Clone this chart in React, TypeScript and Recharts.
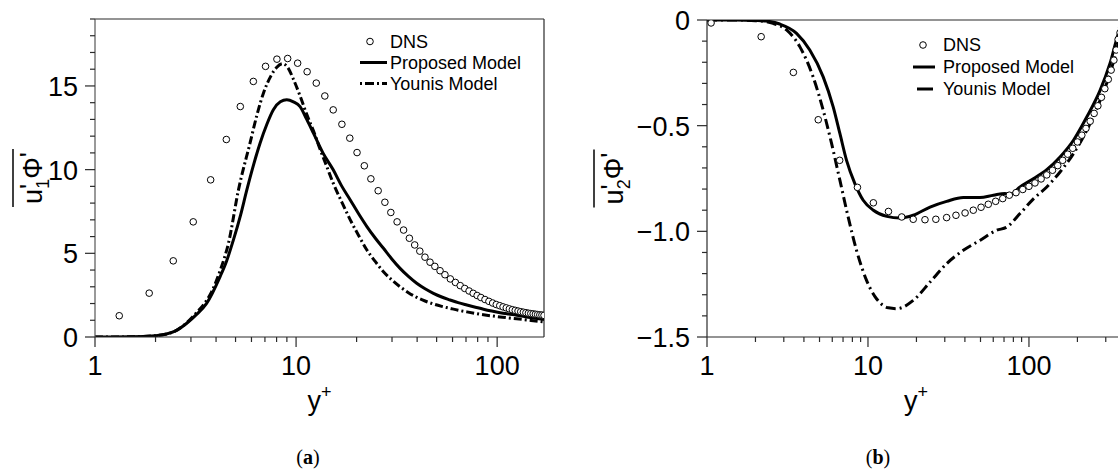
import { ComposedChart, Line, Scatter, XAxis, YAxis, ReferenceLine, Legend } from 'recharts'

// ─── Style tokens ────────────────────────────────────────────────────────────
const INK = '#000'
const FRAME = '#2a2a2a'
const SANS = '"Liberation Sans", Arial, Helvetica, sans-serif'
const SERIF = '"Liberation Serif", "DejaVu Serif", serif'
const TICK_FS = 27

// ─── Panel (a): u'1 phi' vs y+ ───────────────────────────────────────────────
const A_DNS_X = [1.32, 1.86, 2.45, 3.08, 3.76, 4.5, 5.28, 6.13, 7.05, 8.03, 9.08, 10.18, 11.35, 12.6, 13.9, 15.3, 16.9, 18.5, 20.1, 21.85, 23.55, 25.6, 27.65, 29.6, 31.8, 34.25, 36.6, 38.9, 41.25, 43.75, 46.35, 49, 52, 55, 58.5, 62, 65.5, 69, 72.5, 76, 79.5, 83, 87, 91, 95, 99, 103, 107, 111, 115, 119, 123, 127, 131, 135, 139, 143, 147, 151, 155, 159, 163, 167, 171]
const A_DNS_V = [1.27, 2.62, 4.55, 6.88, 9.39, 11.8, 13.77, 15.27, 16.17, 16.6, 16.64, 16.36, 15.85, 15.17, 14.4, 13.57, 12.71, 11.88, 11.02, 10.23, 9.45, 8.74, 8.05, 7.44, 6.88, 6.39, 5.9, 5.5, 5.13, 4.77, 4.47, 4.22, 3.96, 3.72, 3.47, 3.26, 3.07, 2.9, 2.75, 2.61, 2.48, 2.36, 2.24, 2.13, 2.03, 1.94, 1.87, 1.8, 1.74, 1.68, 1.63, 1.59, 1.55, 1.51, 1.48, 1.45, 1.42, 1.4, 1.38, 1.36, 1.34, 1.32, 1.31, 1.29]

const A_PROP_X = [1, 1.5, 2, 2.5, 2.86, 3.2, 3.59, 4.19, 4.5, 4.88, 5.3, 5.69, 6.15, 6.62, 7.15, 7.71, 8.35, 8.99, 9.7, 10.47, 11.3, 12.2, 13.6, 15.3, 16.9, 18.6, 20.5, 22.5, 24.8, 27.2, 30, 32.9, 36.2, 39.8, 43.8, 48.2, 53, 58.4, 64, 70.7, 78, 85.5, 94, 103.5, 114, 125, 140, 155, 171]
const A_PROP_V = [0, 0.01, 0.08, 0.35, 0.82, 1.35, 2.01, 3.61, 4.5, 5.8, 7.3, 8.79, 10.3, 11.58, 12.7, 13.58, 14.05, 14.17, 14.05, 13.77, 13.0, 12.18, 11.0, 9.99, 9.0, 8.19, 7.35, 6.6, 5.9, 5.3, 4.65, 4.1, 3.62, 3.21, 2.88, 2.61, 2.39, 2.21, 2.05, 1.91, 1.78, 1.66, 1.55, 1.45, 1.37, 1.3, 1.2, 1.12, 1.05]

const A_YOUNIS_X = [1, 1.5, 2, 2.5, 2.86, 3.2, 3.5, 3.8, 4.2, 4.61, 5.17, 5.9, 6.4, 6.88, 7.5, 8.0, 8.59, 9.1, 9.7, 10.47, 11.3, 12.4, 13.2, 14.2, 15.3, 16.9, 18.6, 20.5, 22.5, 24.8, 27.2, 30, 32.9, 36.2, 39.8, 43.8, 48.2, 53, 58.4, 64, 70.7, 78, 85.5, 94, 103.5, 114, 125, 140, 155, 171]
const A_YOUNIS_V = [0, 0.01, 0.08, 0.35, 0.85, 1.45, 2.0, 2.7, 4.0, 5.6, 8.79, 11.58, 13.3, 14.57, 15.6, 16.1, 16.33, 16.1, 15.4, 14.4, 13.3, 12.1, 11.18, 10.2, 9.19, 8.05, 7.0, 6.05, 5.2, 4.5, 3.9, 3.4, 3.0, 2.65, 2.37, 2.15, 1.97, 1.83, 1.71, 1.6, 1.5, 1.41, 1.33, 1.26, 1.2, 1.14, 1.09, 1.02, 0.96, 0.9]

const A_X_TICKS = [1, 2, 3, 4, 5, 6, 7, 8, 9, 10, 20, 30, 40, 50, 60, 70, 80, 90, 100]
const A_X_MAJOR = [1, 10, 100]
const A_Y_TICKS = [0, 1, 2, 3, 4, 5, 6, 7, 8, 9, 10, 11, 12, 13, 14, 15, 16, 17, 18, 19]
const A_Y_MAJOR = [0, 5, 10, 15]

// ─── Panel (b): u'2 phi' vs y+ ───────────────────────────────────────────────
const B_DNS_X = [1.06, 2.17, 3.44, 4.91, 6.67, 8.6, 10.8, 13.4, 16.2, 19.1, 22.6, 26.4, 30.8, 35.2, 40.1, 45.1, 50.4, 55.9, 62.1, 68.7, 75.5, 83.1, 91.5, 100, 109, 119, 129, 140, 151, 162, 174, 187, 200, 213, 226, 240, 254, 268, 282, 296, 311, 324, 337, 348, 358, 368, 377, 386, 395]
const B_DNS_V = [-0.014, -0.079, -0.248, -0.472, -0.664, -0.792, -0.865, -0.906, -0.932, -0.943, -0.945, -0.943, -0.935, -0.924, -0.913, -0.9, -0.886, -0.872, -0.858, -0.845, -0.829, -0.817, -0.802, -0.787, -0.771, -0.752, -0.733, -0.711, -0.689, -0.664, -0.635, -0.607, -0.577, -0.545, -0.513, -0.479, -0.442, -0.406, -0.366, -0.325, -0.281, -0.237, -0.19, -0.142, -0.092, -0.06, -0.035, -0.015, 0]

const B_PROP_X = [1, 1.5, 2, 2.34, 2.83, 3.6, 4.35, 5.27, 6.08, 6.69, 7.36, 8.29, 9.34, 10.8, 13.1, 15.8, 19.1, 24.3, 30.8, 39.1, 49.6, 60.1, 71, 76, 88, 107, 129, 156, 189, 229, 277, 319, 360, 395]
const B_PROP_V = [0, 0, -0.002, -0.005, -0.019, -0.063, -0.142, -0.269, -0.411, -0.537, -0.664, -0.774, -0.853, -0.9, -0.929, -0.937, -0.924, -0.885, -0.858, -0.84, -0.84, -0.829, -0.821, -0.826, -0.79, -0.75, -0.708, -0.648, -0.569, -0.458, -0.332, -0.205, -0.063, 0]

const B_YOUNIS_X = [1, 1.5, 2, 2.57, 3.12, 3.77, 4.56, 5.27, 5.94, 6.69, 7.53, 8.49, 9.8, 11.3, 13.4, 15.1, 19.1, 24.3, 30.8, 39.1, 49.6, 63, 72.8, 88, 107, 129, 156, 189, 229, 277, 319, 360, 395]
const B_YOUNIS_V = [0, 0, -0.003, -0.016, -0.047, -0.126, -0.269, -0.427, -0.584, -0.758, -0.932, -1.09, -1.232, -1.319, -1.362, -1.366, -1.327, -1.24, -1.153, -1.09, -1.043, -0.995, -0.98, -0.916, -0.845, -0.79, -0.719, -0.632, -0.521, -0.379, -0.253, -0.11, -0.01]

const B_X_TICKS = [1, 2, 3, 4, 5, 6, 7, 8, 9, 10, 20, 30, 40, 50, 60, 70, 80, 90, 100, 200, 300]
const B_X_MAJOR = [1, 10, 100]
const B_Y_TICKS = [-1.5, -1.4, -1.3, -1.2, -1.1, -1, -0.9, -0.8, -0.7, -0.6, -0.5, -0.4, -0.3, -0.2, -0.1, 0]
const B_Y_MAJOR = [-1.5, -1, -0.5, 0]

const LEGEND_NAMES = ['DNS', 'Proposed Model', 'Younis Model']

const zip = (xs: number[], vs: number[]) => xs.map((x, i) => ({ x, y: vs[i] }))

// ─── Axis ticks (tickSize 0 → x/y is the axis line) ──────────────────────────
function renderXTick(p: any, major: number[]) {
  const { x, y, payload } = p
  const isMajor = major.includes(payload.value)
  return (
    <g>
      <line x1={x} x2={x} y1={y} y2={y + (isMajor ? 10 : 5)} stroke={FRAME} strokeWidth={1.2} />
      {isMajor && (
        <text x={x} y={y + 38} textAnchor="middle" fontSize={TICK_FS} fontFamily={SANS} fill={INK}>{payload.value}</text>
      )}
    </g>
  )
}

function renderYTick(p: any, major: number[], fmt: (v: number) => string) {
  const { x, y, payload } = p
  const isMajor = major.includes(payload.value)
  return (
    <g>
      <line x1={x} x2={x - (isMajor ? 10 : 5)} y1={y} y2={y} stroke={FRAME} strokeWidth={1.2} />
      {isMajor && (
        <text x={x - 17} y={y + 10} textAnchor="end" fontSize={TICK_FS} fontFamily={SANS} fill={INK}>{fmt(payload.value)}</text>
      )}
    </g>
  )
}

const fmtA = (v: number) => String(v)
const fmtB = (v: number) => (v === 0 ? '0' : '\u2212' + Math.abs(v).toFixed(1))

// ─── Axis titles ─────────────────────────────────────────────────────────────
function XTitle({ viewBox }: any) {
  const cx = viewBox.x + viewBox.width / 2
  return (
    <text x={cx} y={viewBox.y + 73} textAnchor="middle" fontSize={TICK_FS} fontFamily={SANS} fill={INK}>
      y<tspan fontSize={18} dy={-12}>+</tspan>
    </text>
  )
}

function YTitle({ viewBox, sub, gap }: any) {
  const bx = viewBox.x + viewBox.width - gap
  const cy = viewBox.y + viewBox.height / 2
  return (
    <g>
      <text transform={`translate(${bx},${cy}) rotate(-90)`} textAnchor="middle" fontSize={TICK_FS} fontFamily={SANS} fill={INK}>
        u<tspan dy={-3}>'</tspan>
        <tspan fontSize={18} dx={-5} dy={10}>{sub}</tspan>
        <tspan dy={-7}>Φ</tspan>
        <tspan dy={-3}>'</tspan>
      </text>
      <line x1={bx - 29} x2={bx - 29} y1={cy - 29} y2={cy + 29} stroke={INK} strokeWidth={1.5} />
    </g>
  )
}

// ─── Legend ──────────────────────────────────────────────────────────────────
function LegendBox({ rowH, lineLen, younisDash, younisStart }: { rowH: number; lineLen: number; younisDash: string; younisStart: number }) {
  return (
    <div style={{ fontFamily: SANS, fontSize: 18, color: INK }}>
      {LEGEND_NAMES.map((name, i) => (
        <div key={name} style={{ display: 'flex', alignItems: 'center', height: rowH }}>
          <svg width={30} height={rowH} style={{ display: 'block' }}>
            {i === 0 && <circle cx={10} cy={rowH / 2} r={3.3} fill="#fff" stroke={INK} strokeWidth={1} />}
            {i === 1 && <line x1={0} x2={lineLen} y1={rowH / 2} y2={rowH / 2} stroke={INK} strokeWidth={3} />}
            {i === 2 && <line x1={younisStart} x2={lineLen} y1={rowH / 2} y2={rowH / 2} stroke={INK} strokeWidth={3} strokeDasharray={younisDash} />}
          </svg>
          <span style={{ lineHeight: 1, whiteSpace: 'nowrap' }}>{name}</span>
        </div>
      ))}
    </div>
  )
}

const circleShape = (p: any) => <circle cx={p.cx} cy={p.cy} r={3.3} fill="#fff" stroke={INK} strokeWidth={1} />

const captionStyle: React.CSSProperties = {
  position: 'absolute', top: 446, width: 60, textAlign: 'center',
  fontFamily: SERIF, fontSize: 20, lineHeight: '22px', color: INK,
}

export default function App() {
  const aDns = zip(A_DNS_X, A_DNS_V)
  const aProp = zip(A_PROP_X, A_PROP_V)
  const aYounis = zip(A_YOUNIS_X, A_YOUNIS_V)
  const bDns = zip(B_DNS_X, B_DNS_V)
  const bProp = zip(B_PROP_X, B_PROP_V)
  const bYounis = zip(B_YOUNIS_X, B_YOUNIS_V)

  return (
    <div style={{ position: 'absolute', left: 0, top: 0, width: 1118, height: 472, overflow: 'hidden', background: '#fff' }}>
      {/* (a) streamwise flux */}
      <div style={{ position: 'absolute', left: 0, top: 0 }}>
        <ComposedChart width={560} height={472} margin={{ top: 19, right: 16, bottom: 95, left: 0 }}>
          <XAxis dataKey="x" type="number" scale="log" domain={[1, 171]} allowDataOverflow ticks={A_X_TICKS} interval={0}
            height={40} tickSize={0} tickMargin={0} tickLine={false}
            axisLine={{ stroke: FRAME, strokeWidth: 1.2 }}
            tick={(p: any) => renderXTick(p, A_X_MAJOR)}
            label={{ content: (p: any) => <XTitle viewBox={p.viewBox} /> }} />
          <YAxis type="number" domain={[0, 19]} allowDataOverflow ticks={A_Y_TICKS} interval={0}
            width={95} tickSize={0} tickMargin={0} tickLine={false}
            axisLine={{ stroke: '#555', strokeWidth: 1.2 }}
            tick={(p: any) => renderYTick(p, A_Y_MAJOR, fmtA)}
            label={{ content: (p: any) => <YTitle viewBox={p.viewBox} sub="1" gap={53} /> }} />
          <ReferenceLine y={19} stroke={FRAME} strokeWidth={1.2} />
          <ReferenceLine x={171} stroke={FRAME} strokeWidth={1.2} />
          <Scatter data={aDns} dataKey="y" shape={circleShape} isAnimationActive={false} />
          <Line data={aYounis} dataKey="y" type="monotone" stroke={INK} strokeWidth={3} strokeDasharray="8 3 2 3" dot={false} activeDot={false} isAnimationActive={false} />
          <Line data={aProp} dataKey="y" type="monotone" stroke={INK} strokeWidth={3} dot={false} activeDot={false} isAnimationActive={false} />
          <Legend layout="horizontal" verticalAlign="middle" align="center"
            wrapperStyle={{ left: 360, top: 31, width: 'auto', height: 'auto' }}
            content={() => <LegendBox rowH={21} lineLen={27} younisDash="2 3 9 3" younisStart={0} />} />
        </ComposedChart>
      </div>

      {/* (b) wall-normal flux */}
      <div style={{ position: 'absolute', left: 570, top: 0 }}>
        <ComposedChart width={565} height={472} margin={{ top: 20, right: 10, bottom: 95, left: 0 }}>
          <XAxis dataKey="x" type="number" scale="log" domain={[1, 395]} allowDataOverflow ticks={B_X_TICKS} interval={0}
            height={40} tickSize={0} tickMargin={0} tickLine={false}
            axisLine={{ stroke: FRAME, strokeWidth: 1.2 }}
            tick={(p: any) => renderXTick(p, B_X_MAJOR)}
            label={{ content: (p: any) => <XTitle viewBox={p.viewBox} /> }} />
          <YAxis type="number" domain={[-1.5, 0]} allowDataOverflow ticks={B_Y_TICKS} interval={0}
            width={137} tickSize={0} tickMargin={0} tickLine={false}
            axisLine={{ stroke: FRAME, strokeWidth: 1.2 }}
            tick={(p: any) => renderYTick(p, B_Y_MAJOR, fmtB)}
            label={{ content: (p: any) => <YTitle viewBox={p.viewBox} sub="2" gap={84} /> }} />
          <ReferenceLine y={0} stroke={FRAME} strokeWidth={1.2} />
          <Scatter data={bDns} dataKey="y" shape={circleShape} isAnimationActive={false} />
          <Line data={bYounis} dataKey="y" type="monotone" stroke={INK} strokeWidth={3} strokeDasharray="10 4 2 4" dot={false} activeDot={false} isAnimationActive={false} />
          <Line data={bProp} dataKey="y" type="monotone" stroke={INK} strokeWidth={3} dot={false} activeDot={false} isAnimationActive={false} />
          <Legend layout="horizontal" verticalAlign="middle" align="center"
            wrapperStyle={{ left: 343, top: 34, width: 'auto', height: 'auto' }}
            content={() => <LegendBox rowH={22} lineLen={22} younisDash="16 60" younisStart={4} />} />
        </ComposedChart>
      </div>

      {/* sub-figure captions */}
      <div style={{ ...captionStyle, left: 278 }}>
        (<b>a</b>)
      </div>
      <div style={{ ...captionStyle, left: 848 }}>
        (<b>b</b>)
      </div>
    </div>
  )
}
